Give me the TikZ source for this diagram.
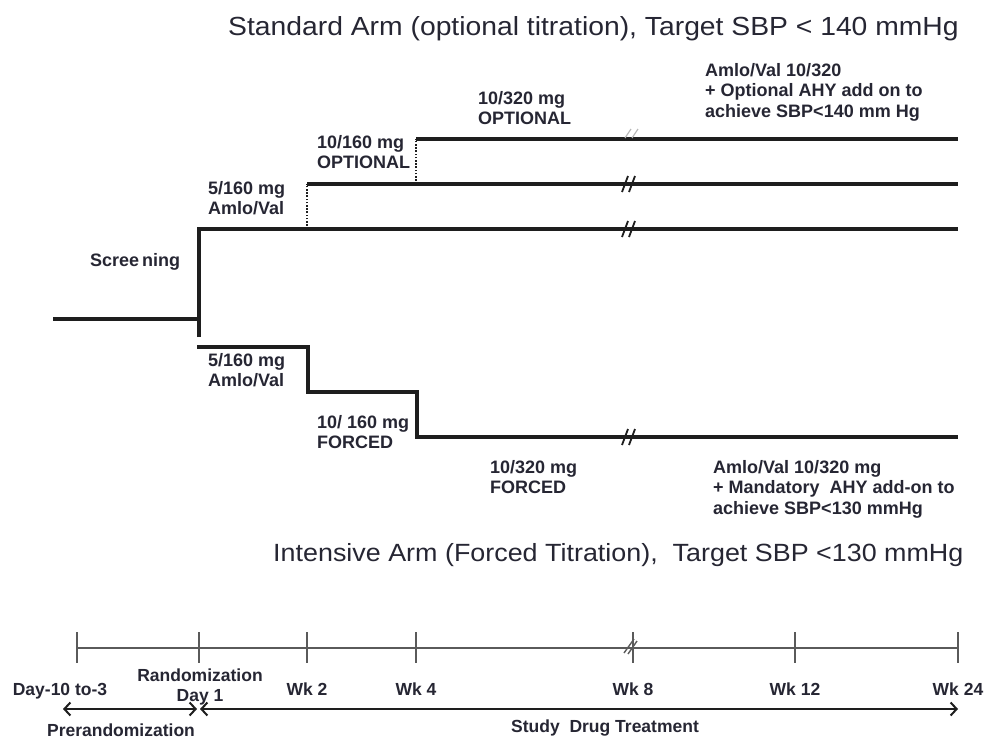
\documentclass[tikz,border=0pt]{standalone}
\usepackage{fontspec}
\setmainfont{Liberation Sans}
\newfontfamily\headfont[FakeStretch=1.08]{Liberation Sans}
\usetikzlibrary{arrows.meta}
\definecolor{ArmInk}{HTML}{1E1E1E}
\definecolor{TextInk}{HTML}{262633}
\definecolor{AxisGray}{HTML}{5A5A5A}
\definecolor{FaintGray}{HTML}{B8B8B8}
\tikzset{
  dosetext/.style={font=\bfseries\fontsize{18}{20.5}\selectfont, text=TextInk, align=left, anchor=north west, inner sep=0pt},
  ticktext/.style={font=\bfseries\fontsize{17.5}{20}\selectfont, text=TextInk, align=center, anchor=base, inner sep=0pt},
  armtitle/.style={font=\headfont\fontsize{26.2}{30}\selectfont, text=TextInk, anchor=base west, inner sep=0pt},
  armline/.style={line width=3.2pt, draw=ArmInk},
  optline/.style={line width=2.6pt, draw=ArmInk, dash pattern=on 1.6pt off 1.6pt},
  axisline/.style={line width=1.1pt, draw=AxisGray},
  tickmark/.style={line width=1.4pt, draw=AxisGray},
  breakmark/.style={line width=1.8pt, draw=ArmInk},
  faintbreak/.style={line width=1.2pt, draw=FaintGray},
  spanarrow/.style={{Straight Barb[length=6pt,width=13pt,line width=2pt]}-{Straight Barb[length=6pt,width=13pt,line width=2pt]}, line width=2.6pt, draw=ArmInk}
}
\begin{document}
\begin{tikzpicture}[x=1pt,y=-1pt]
\useasboundingbox (0,0) rectangle (984,740);
% arm titles
\node[armtitle] (stdtitle) at (228,35) {Standard Arm (optional titration), Target SBP < 140 mmHg};
\node[armtitle, font=\headfont\fontsize{24.9}{30}\selectfont] (inttitle) at (273,561) {Intensive Arm (Forced Titration),\ \ Target SBP <130 mmHg};
% arm geometry
\coordinate (scrstart) at (53,319);
\coordinate (scrend) at (199,319);
\coordinate (randtop) at (199,229);
\coordinate (randlow) at (199,337);
\coordinate (std1end) at (958,229);
\coordinate (std2low) at (307,229);
\coordinate (std2top) at (307,184);
\coordinate (std2end) at (958,184);
\coordinate (std3low) at (416,184);
\coordinate (std3top) at (416,139);
\coordinate (std3end) at (958,139);
\coordinate (int1) at (197,347);
\coordinate (int2) at (308,347);
\coordinate (int3) at (308,392);
\coordinate (int4) at (417,392);
\coordinate (int5) at (417,437);
\coordinate (int6) at (958,437);
\draw[armline] (scrstart) -- (scrend);
\draw[armline] (randlow) -- (randtop) -- (std1end);
\draw[optline] (std2low) -- (std2top);
\draw[armline] (std2top) -- (std2end);
\draw[optline] (std3low) -- (std3top);
\draw[armline] (std3top) -- (std3end);
\draw[armline] (int1) -- (int2) -- (int3) -- (int4) -- (int5) -- (int6);
% break marks
\coordinate (brk1) at (628,229);
\coordinate (brk2) at (628,184);
\coordinate (brk3) at (628,139);
\coordinate (brk4) at (628,437);
\draw[breakmark] ([shift={(-6,8)}]brk1) -- ([shift={(0,-8)}]brk1) ([shift={(1,8)}]brk1) -- ([shift={(7,-8)}]brk1);
\draw[line width=4pt, draw=ArmInk] (brk1) -- ([xshift=42pt]brk1);
\draw[breakmark] ([shift={(-6,8)}]brk2) -- ([shift={(0,-8)}]brk2) ([shift={(1,8)}]brk2) -- ([shift={(7,-8)}]brk2);
\draw[faintbreak] ([shift={(-3,-1)}]brk3) -- ([shift={(3,-10)}]brk3) ([shift={(4,-1)}]brk3) -- ([shift={(10,-10)}]brk3);
\draw[breakmark] ([shift={(-6,8)}]brk4) -- ([shift={(0,-8)}]brk4) ([shift={(1,8)}]brk4) -- ([shift={(7,-8)}]brk4);
% dose labels
\node[dosetext] (screen) at (90,253) {Scree\,ning};
\node[dosetext] (std51) at (208,181) {5/160 mg\\Amlo/Val};
\node[dosetext] (std101) at (317,135) {10/160 mg\\OPTIONAL};
\node[dosetext] (std103) at (478,91) {10/320 mg\\OPTIONAL};
\node[dosetext] (stdnote) at (705,63) {Amlo/Val 10/320\\+ Optional AHY add on to\\achieve SBP<140 mm Hg};
\node[dosetext] (int51) at (208,353) {5/160 mg\\Amlo/Val};
\node[dosetext] (int101) at (317,415) {10/ 160 mg\\FORCED};
\node[dosetext] (int103) at (490,460) {10/320 mg\\FORCED};
\node[dosetext] (intnote) at (713,460) {Amlo/Val 10/320 mg\\+ Mandatory\ \ AHY add-on to\\achieve SBP<130 mmHg};
% timeline
\coordinate (tk0) at (77,648);
\coordinate (tk1) at (199,648);
\coordinate (tk2) at (307,648);
\coordinate (tk3) at (416,648);
\coordinate (tk4) at (633,648);
\coordinate (tk5) at (795,648);
\coordinate (tk6) at (958,648);
\draw[axisline] (tk0) -- (tk6);
\draw[tickmark] ([yshift=16pt]tk0) -- ([yshift=-15pt]tk0);
\draw[tickmark] ([yshift=16pt]tk1) -- ([yshift=-15pt]tk1);
\draw[tickmark] ([yshift=16pt]tk2) -- ([yshift=-15pt]tk2);
\draw[tickmark] ([yshift=16pt]tk3) -- ([yshift=-15pt]tk3);
\draw[tickmark] ([yshift=16pt]tk4) -- ([yshift=-15pt]tk4);
\draw[tickmark] ([yshift=16pt]tk5) -- ([yshift=-15pt]tk5);
\draw[tickmark] ([yshift=16pt]tk6) -- ([yshift=-15pt]tk6);
\draw[tickmark] ([shift={(-9,5)}]tk4) -- ([shift={(1,-9)}]tk4) ([shift={(-5,6)}]tk4) -- ([shift={(4,-7)}]tk4);
\node[ticktext] (day0) at (60,695) {Day-10 to-3};
\node[ticktext] (day1) at (200,701) {Randomization\\Day 1};
\node[ticktext] (wk2) at (307,695) {Wk 2};
\node[ticktext] (wk4) at (416,695) {Wk 4};
\node[ticktext] (wk8) at (633,695) {Wk 8};
\node[ticktext] (wk12) at (795,695) {Wk 12};
\node[ticktext] (wk24) at (958,695) {Wk 24};
% study periods
\coordinate (prestart) at (63,709);
\coordinate (preend) at (197,709);
\coordinate (trtstart) at (200,709);
\coordinate (trtend) at (958,709);
\draw[spanarrow] (prestart) -- (preend);
\draw[spanarrow] (trtstart) -- (trtend);
\node[ticktext] (prerand) at (121,736) {Prerandomization};
\node[ticktext] (treat) at (605,732) {Study\ \ Drug Treatment};
\end{tikzpicture}
\end{document}
